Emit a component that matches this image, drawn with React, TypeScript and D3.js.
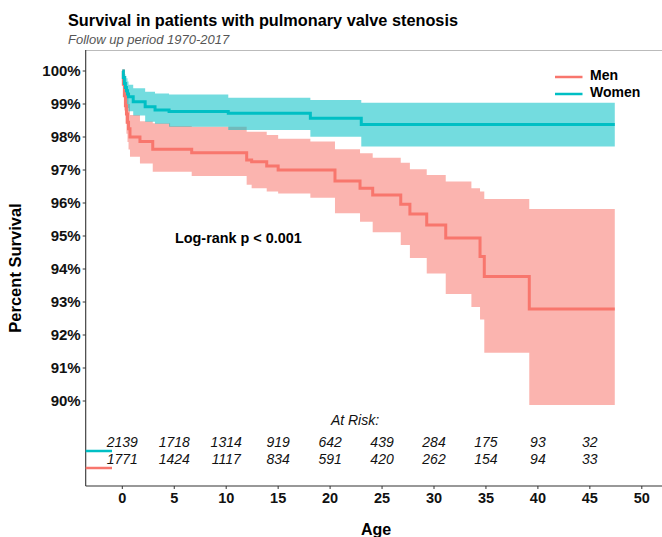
import React from "react";
import * as d3 from "d3";

// ---- data ----
const womenTime = [0, 0.1, 0.2, 0.3, 0.4, 0.5, 0.6, 1.05, 2.2, 3.15, 4.5, 10.2, 18.1, 23.0, 47.4];
const womenSurv = [100, 99.8, 99.62, 99.5, 99.4, 99.3, 99.22, 99.07, 98.92, 98.82, 98.77, 98.72, 98.57, 98.38, 98.38];
const womenUpper = [100, 99.95, 99.9, 99.85, 99.78, 99.68, 99.58, 99.48, 99.37, 99.32, 99.29, 99.19, 99.12, 99.04, 99.04];
const womenLower = [100, 99.6, 99.35, 99.15, 99.0, 98.88, 98.78, 98.65, 98.46, 98.4, 98.31, 98.21, 98.01, 97.71, 97.71];

const menTime = [0, 0.1, 0.2, 0.3, 0.4, 0.5, 0.6, 0.74, 1.7, 2.93, 4.6, 6.68, 11.97, 12.45, 13.9, 15.0, 18.1, 20.47, 22.88, 24.1, 26.8, 27.68, 29.3, 31.13, 33.6, 34.43, 34.84, 39.17, 47.4];
const menSurv = [100, 99.6, 99.25, 98.95, 98.7, 98.45, 98.25, 98.0, 97.86, 97.63, 97.63, 97.52, 97.3, 97.25, 97.12, 97.0, 97.0, 96.67, 96.45, 96.24, 95.96, 95.67, 95.33, 94.94, 94.94, 94.38, 93.77, 92.79, 92.79];
const menUpper = [100, 99.9, 99.75, 99.6, 99.4, 99.2, 99.0, 98.67, 98.48, 98.42, 98.33, 98.31, 98.16, 98.16, 98.06, 97.95, 97.86, 97.63, 97.51, 97.37, 97.22, 97.02, 96.85, 96.65, 96.45, 96.35, 96.12, 95.82, 95.82];
const menLower = [100, 99.3, 98.8, 98.4, 98.1, 97.85, 97.62, 97.4, 97.2, 96.95, 96.95, 96.82, 96.55, 96.45, 96.35, 96.29, 96.16, 95.69, 95.43, 95.11, 94.73, 94.33, 93.86, 93.24, 92.85, 92.47, 91.46, 89.88, 89.88];

const xTicks = [0, 5, 10, 15, 20, 25, 30, 35, 40, 45, 50];
const yTicks = [90, 91, 92, 93, 94, 95, 96, 97, 98, 99, 100];
const riskTimes = [0, 5, 10, 15, 20, 25, 30, 35, 40, 45];
const womenAtRisk = [2139, 1718, 1314, 919, 642, 439, 284, 175, 93, 32];
const menAtRisk = [1771, 1424, 1117, 834, 591, 420, 262, 154, 94, 33];

const seriesNames = ["Men", "Women"];
const colors = { Men: "#F8766D", Women: "#00BFC4" };

const FONT = "'Liberation Sans', Arial, sans-serif";

export default function App() {
  const W = 662, H = 537;
  const left = 85.7, top = 50, bottom = 486, right = 662;
  const x = d3.scaleLinear().domain([0, 50]).range([122.3, 641.8]);
  const y = d3.scaleLinear().domain([90, 100]).range([401, 71]);

  const mk = (t: number[], s: number[], u: number[], l: number[]) =>
    t.map((tt, i) => ({ t: tt, s: s[i], u: u[i], l: l[i] }));
  const women = mk(womenTime, womenSurv, womenUpper, womenLower);
  const men = mk(menTime, menSurv, menUpper, menLower);

  const area = d3
    .area<any>()
    .x((d) => x(d.t))
    .y0((d) => y(d.l))
    .y1((d) => y(d.u))
    .curve(d3.curveStepAfter);
  const line = d3
    .line<any>()
    .x((d) => x(d.t))
    .y((d) => y(d.s))
    .curve(d3.curveStepAfter);

  return (
    <svg
      width={W}
      height={H}
      style={{ position: "absolute", left: 0, top: 0, background: "#fff" }}
      fontFamily={FONT}
    >
      {/* title */}
      <text x={68} y={26} fontSize={16.3} fontWeight="bold" fill="#000">
        Survival in patients with pulmonary valve stenosis
      </text>
      <text x={68} y={44} fontSize={13} fontStyle="italic" fill="#555">
        Follow up period 1970-2017
      </text>

      {/* top panel border */}
      <line x1={left} x2={right} y1={top + 0.5} y2={top + 0.5} stroke="#bbb" strokeWidth={1} />

      {/* ribbons */}
      <path d={area(men) || ""} fill={colors.Men} fillOpacity={0.55} />
      <path d={area(women) || ""} fill={colors.Women} fillOpacity={0.55} />
      {/* curves */}
      <path d={line(men) || ""} fill="none" stroke={colors.Men} strokeWidth={3} />
      <path d={line(women) || ""} fill="none" stroke={colors.Women} strokeWidth={3} />

      {/* axes */}
      <line x1={left} x2={left} y1={top} y2={bottom} stroke="#333" strokeWidth={1.1} />
      <line x1={left} x2={right} y1={bottom} y2={bottom} stroke="#333" strokeWidth={1.1} />
      {yTicks.map((v) => (
        <g key={"y" + v}>
          <line x1={left - 3} x2={left} y1={y(v)} y2={y(v)} stroke="#333" />
          <text x={left - 5} y={y(v)} dy="0.35em" textAnchor="end" fontSize={15} fontWeight="bold" fill="#111">
            {v}%
          </text>
        </g>
      ))}
      {xTicks.map((v) => (
        <g key={"x" + v}>
          <line x1={x(v)} x2={x(v)} y1={bottom} y2={bottom + 3} stroke="#333" />
          <text x={x(v)} y={503} textAnchor="middle" fontSize={14.5} fontWeight="bold" fill="#111">
            {v}
          </text>
        </g>
      ))}
      <text x={376} y={535} textAnchor="middle" fontSize={16} fontWeight="bold" fill="#000">
        Age
      </text>
      <text
        transform={`translate(21,${(top + bottom) / 2}) rotate(-90)`}
        textAnchor="middle"
        fontSize={16.5}
        fontWeight="bold"
        fill="#000"
      >
        Percent Survival
      </text>

      {/* legend */}
      {seriesNames.map((n, i) => (
        <g key={n}>
          <line x1={555} x2={582.5} y1={77 + i * 17} y2={77 + i * 17} stroke={(colors as any)[n]} strokeWidth={2.5} />
          <text x={590} y={80 + i * 17} fontSize={14} fontWeight="bold" fill="#000">
            {n}
          </text>
        </g>
      ))}

      {/* log rank */}
      <text x={175} y={243} fontSize={14.4} fontWeight="bold" fill="#000">
        Log-rank p &lt; 0.001
      </text>

      {/* at risk table */}
      <text x={355} y={425} textAnchor="middle" fontSize={14} fontStyle="italic" fill="#111">
        At Risk:
      </text>
      {riskTimes.map((t, i) => (
        <g key={"r" + t}>
          <text x={x(t)} y={447} textAnchor="middle" fontSize={14} fontStyle="italic" fill="#111">
            {womenAtRisk[i]}
          </text>
          <text x={x(t)} y={464} textAnchor="middle" fontSize={14} fontStyle="italic" fill="#111">
            {menAtRisk[i]}
          </text>
        </g>
      ))}
      <line x1={left} x2={112} y1={451} y2={451} stroke={colors.Women} strokeWidth={2.5} />
      <line x1={left} x2={112} y1={468} y2={468} stroke={colors.Men} strokeWidth={2.5} />
    </svg>
  );
}
